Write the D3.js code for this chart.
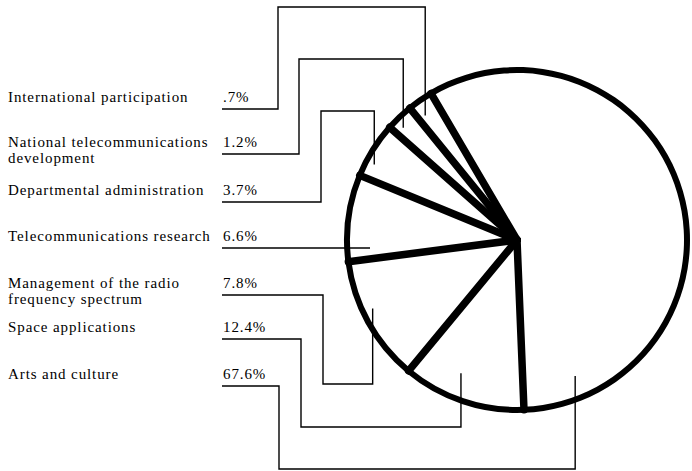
<!DOCTYPE html>
<html>
<head>
<meta charset="utf-8">
<script src="https://cdn.jsdelivr.net/npm/d3@7"></script>
<style>
  html, body { margin: 0; padding: 0; background: #fff; }
  svg { display: block; }
  text { font-family: "Liberation Serif", "Times New Roman", serif; fill: #000; }
</style>
</head>
<body>
<svg id="chart" width="692" height="471"></svg>
<script>
// ---- Data (label order, top to bottom) ----
const categories = [
  "International participation",
  "National telecommunications\ndevelopment",
  "Departmental administration",
  "Telecommunications research",
  "Management of the radio\nfrequency spectrum",
  "Space applications",
  "Arts and culture"
];
// printed percentages
const percentValues = [0.7, 1.2, 3.7, 6.6, 7.8, 12.4, 67.6];
// share of the circle each slice occupies in the original drawing (not drawn to scale), %
const drawnShares = [2.4, 2.6, 5.3, 8.2, 11.9, 11.6, 57.5];
// clockwise drawing order of the slices (indices into categories), starting at the top boundary
const sliceOrder = [6, 5, 4, 3, 2, 1, 0];

// ---- Layout ----
const W = 692, H = 471;
const cx = 517, cy = 240, R = 170;
const startDeg = -30.4;
const labelX = 8, pctX = 223;
const underlineY = [109, 154, 202, 248, 295, 339, 386];
// leader routing: where inside the slice the leader ends (fraction of slice angle, fraction of radius),
// elbow x and routing y of the connector
const leaderLayout = [
  { f: 0.31, rho: 0.91, elbowX: 278, routeY: 7 },
  { f: 0.33, rho: 0.94, elbowX: 299, routeY: 59 },
  { f: 0.29, rho: 0.95, elbowX: 321, routeY: 111 },
  { f: 0.18, rho: 0.865, elbowX: null, routeY: null },
  { f: 0.58, rho: 0.94, elbowX: 323, routeY: 384 },
  { f: 0.60, rho: 0.85, elbowX: 301, routeY: 427 },
  { f: 0.90, rho: 0.87, elbowX: 279, routeY: 469 }
];

const svg = d3.select("#chart");

const startRad = startDeg * Math.PI / 180;
const pie = d3.pie()
  .sort(null)
  .value(i => drawnShares[i])
  .startAngle(startRad)
  .endAngle(startRad + 2 * Math.PI);
const arcsData = pie(sliceOrder);
const byCat = {};
arcsData.forEach(a => { byCat[a.data] = a; });

const g = svg.append("g").attr("transform", `translate(${cx},${cy})`);

// slice fills
const arcFill = d3.arc().innerRadius(0).outerRadius(R);
g.selectAll("path.slice").data(arcsData).join("path")
  .attr("class", "slice")
  .attr("d", arcFill)
  .attr("fill", "#fff");

// outer ring
const ring = d3.arc().innerRadius(R - 3).outerRadius(R + 3);
g.selectAll("path.ring").data(arcsData).join("path")
  .attr("class", "ring")
  .attr("d", ring)
  .attr("fill", "#000");

// slice boundaries
g.selectAll("line.edge").data(arcsData).join("line")
  .attr("class", "edge")
  .attr("x1", 0).attr("y1", 0)
  .attr("x2", d => d3.pointRadial(d.startAngle, R)[0])
  .attr("y2", d => d3.pointRadial(d.startAngle, R)[1])
  .attr("stroke", "#000")
  .attr("stroke-width", 7.5)
  .attr("stroke-linecap", "round");

// labels
const fmt = v => d3.format(".1f")(v).replace(/^0/, "") + "%";
categories.forEach((c, i) => {
  const base = underlineY[i] - 7;
  const lines = c.split("\n");
  const t = svg.append("text")
    .attr("x", labelX).attr("y", base)
    .style("font-size", "15px")
    .style("letter-spacing", "0.9px");
  lines.forEach((ln, k) => {
    t.append("tspan").attr("x", labelX).attr("y", base + k * 15.5).text(ln);
  });
  svg.append("text")
    .attr("x", pctX).attr("y", base)
    .style("font-size", "15px")
    .style("letter-spacing", "0.9px")
    .text(fmt(percentValues[i]));
});

// leader lines
categories.forEach((c, i) => {
  const a = byCat[i];
  const L = leaderLayout[i];
  const ang = a.startAngle + L.f * (a.endAngle - a.startAngle);
  const p = d3.pointRadial(ang, L.rho * R);
  const ex = cx + p[0], ey = cy + p[1];
  const uy = underlineY[i];
  let pts;
  if (L.elbowX === null) {
    pts = [[pctX - 1, uy], [ex, uy]];
  } else {
    pts = [[pctX - 1, uy], [L.elbowX, uy], [L.elbowX, L.routeY], [ex, L.routeY], [ex, ey]];
  }
  svg.append("path")
    .attr("d", d3.line()(pts))
    .attr("fill", "none")
    .attr("stroke", "#000")
    .attr("stroke-width", 1.4)
    .attr("stroke-linejoin", "miter");
});
</script>
</body>
</html>
